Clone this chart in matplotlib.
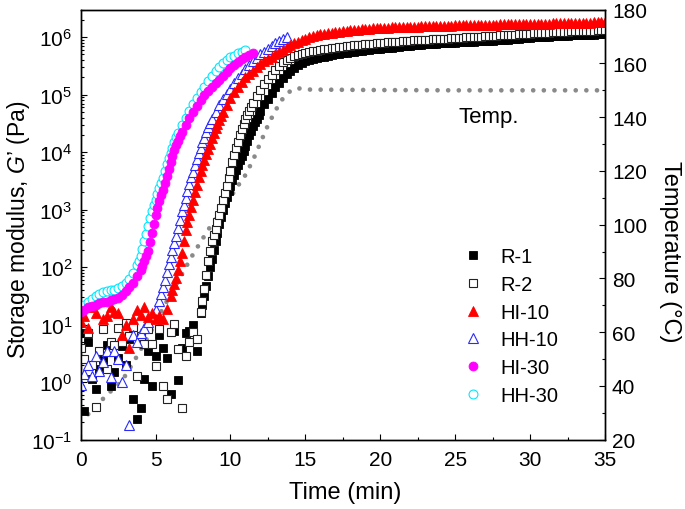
import matplotlib
matplotlib.use('Agg')
import matplotlib.pyplot as plt
from matplotlib.ticker import MultipleLocator, LogLocator
from matplotlib.lines import Line2D

# ---------------- data ----------------
time_min = [0.0, 0.25, 0.5, 0.75, 1.0, 1.25, 1.5, 1.75,
            2.0, 2.25, 2.5, 2.75, 3.0, 3.25, 3.5, 3.75,
            4.0, 4.25, 4.5, 4.75, 5.0, 5.25, 5.5, 5.75,
            6.0, 6.25, 6.5, 6.75, 7.0, 7.25, 7.5, 7.75,
            8.0, 8.25, 8.5, 8.75, 9.0, 9.25, 9.5, 9.75,
            10.0, 10.25, 10.5, 10.75, 11.0, 11.25, 11.5, 11.75,
            12.0, 12.25, 12.5, 12.75, 13.0, 13.25, 13.5, 13.75,
            14.0, 14.25, 14.5, 14.75, 15.0, 15.25, 15.5, 15.75,
            16.0, 16.25, 16.5, 16.75, 17.0, 17.25, 17.5, 17.75,
            18.0, 18.25, 18.5, 18.75, 19.0, 19.25, 19.5, 19.75,
            20.0, 20.25, 20.5, 20.75, 21.0, 21.25, 21.5, 21.75,
            22.0, 22.25, 22.5, 22.75, 23.0, 23.25, 23.5, 23.75,
            24.0, 24.25, 24.5, 24.75, 25.0, 25.25, 25.5, 25.75,
            26.0, 26.25, 26.5, 26.75, 27.0, 27.25, 27.5, 27.75,
            28.0, 28.25, 28.5, 28.75, 29.0, 29.25, 29.5, 29.75,
            30.0, 30.25, 30.5, 30.75, 31.0, 31.25, 31.5, 31.75,
            32.0, 32.25, 32.5, 32.75, 33.0, 33.25, 33.5, 33.75,
            34.0, 34.25, 34.5, 34.75, 35.0]

g_r1 = [7.1, 0.32, 5.0, 1.15, 0.76, 1.7, 2.4, 4.4,
        0.87, 1.48, 2.6, 4.2, 2.0, 5.6, 0.51, 0.23,
        0.35, 1.15, 3.5, 0.87, 2.9, 6.5, 4.0, 2.6,
        0.63, 7.9, 1.07, 4.0, 7.1, 7.9, 10.0, 3.5,
        16.0, 32.0, 71.0, 141.0, 282.0, 562.0, 1000.0, 1660.0,
        2630.0, 3980.0, 5890.0, 8710.0, 12600.0, 19500.0, 28200.0, 38000.0,
        52500.0, 67600.0, 85100.0, 107000.0, 135000.0, 162000.0, 195000.0, 229000.0,
        263000.0, 295000.0, 331000.0, 355000.0,
        3.8e5, 3.98e5, 4.15e5, 4.3e5, 4.47e5,
        4.6e5, 4.72e5, 4.85e5, 5.0e5,
        5.12e5, 5.25e5, 5.38e5, 5.5e5,
        5.6e5, 5.7e5, 5.8e5, 5.9e5, 6.0e5, 6.1e5, 6.2e5, 6.3e5,
        6.4e5, 6.5e5, 6.6e5, 6.7e5, 6.8e5, 6.9e5, 7.0e5, 7.1e5,
        7.2e5, 7.3e5, 7.38e5, 7.45e5, 7.55e5, 7.62e5, 7.7e5, 7.8e5,
        7.86e5, 7.92e5, 7.98e5, 8.04e5, 8.1e5, 8.16e5, 8.22e5, 8.3e5,
        8.36e5, 8.42e5, 8.5e5, 8.56e5, 8.62e5, 8.7e5, 8.78e5, 8.9e5,
        9.0e5, 9.1e5, 9.2e5, 9.3e5, 9.4e5, 9.5e5, 9.65e5, 9.8e5,
        9.9e5, 10.0e5, 10.1e5, 10.15e5, 10.2e5, 10.3e5, 10.4e5, 10.5e5,
        10.6e5, 10.65e5, 10.7e5, 10.8e5, 10.85e5, 10.9e5, 11.0e5, 11.05e5,
        11.1e5, 11.15e5, 11.2e5, 11.3e5]

g_r2 = [4.0, 2.5, 7.1, 2.0, 0.37, 3.5, 8.3, 1.7,
        5.0, 4.4, 8.9, 5.0, 10.5, 6.3, 9.1, 1.3,
        6.3, 4.6, 8.3, 4.6, 1.95, 8.3, 0.87, 0.51,
        7.4, 10.2, 3.8, 0.35, 2.8, 5.0, 7.4, 5.6,
        16.6, 41.7, 126.0, 282.0, 457.0, 794.0, 1450.0, 2630.0,
        4790.0, 8910.0, 15100.0, 25700.0, 37200.0, 52500.0, 70800.0, 93300.0,
        120000.0, 151000.0, 186000.0, 224000.0, 269000.0, 316000.0, 363000.0, 407000.0,
        437000.0, 468000.0, 490000.0, 513000.0,
        5.25e5, 5.45e5, 5.65e5, 5.85e5, 6.0e5,
        6.15e5, 6.3e5, 6.45e5, 6.6e5,
        6.7e5, 6.85e5, 6.95e5, 7.1e5,
        7.2e5, 7.3e5, 7.4e5, 7.5e5, 7.6e5, 7.7e5, 7.8e5, 7.9e5,
        8.0e5, 8.1e5, 8.2e5, 8.3e5, 8.4e5, 8.5e5, 8.6e5, 8.7e5,
        8.78e5, 8.85e5, 8.92e5, 9.0e5, 9.08e5, 9.15e5, 9.22e5, 9.3e5,
        9.38e5, 9.46e5, 9.54e5, 9.62e5, 9.7e5, 9.8e5, 9.9e5, 10.0e5,
        10.1e5, 10.2e5, 10.25e5, 10.35e5, 10.45e5, 10.5e5, 10.6e5, 10.7e5,
        10.8e5, 10.9e5, 11.0e5, 11.1e5, 11.2e5, 11.3e5, 11.4e5, 11.5e5,
        11.6e5, 11.7e5, 11.8e5, 11.9e5, 12.0e5, 12.1e5, 12.2e5, 12.3e5,
        12.4e5, 12.45e5, 12.55e5, 12.6e5, 12.7e5, 12.8e5, 12.85e5, 12.95e5,
        13.0e5, 13.1e5, 13.15e5, 13.2e5]

g_hi10 = [11.2, 14.1, 8.9, 20.0, 15.8, 26.3, 12.6, 14.1,
          20.0, 16.6, 16.2, 6.5, 10.0, 4.0, 12.6, 17.8,
          14.5, 20.0, 13.8, 15.8, 12.6, 14.1, 12.6, 18.6,
          31.6, 50.0, 89.0, 178.0, 447.0, 794.0, 1480.0, 2690.0,
          4790.0, 7410.0, 11500.0, 17400.0, 26300.0, 36300.0, 49000.0, 66100.0,
          89100.0, 110000.0, 135000.0, 166000.0, 200000.0, 229000.0, 263000.0, 302000.0,
          339000.0, 380000.0, 417000.0, 457000.0, 501000.0, 550000.0, 603000.0, 661000.0,
          724000.0, 776000.0, 832000.0, 891000.0,
          0.93e6, 0.99e6, 1.05e6, 1.09e6, 1.12e6,
          1.15e6, 1.18e6, 1.2e6, 1.23e6,
          1.25e6, 1.27e6, 1.3e6, 1.32e6,
          1.34e6, 1.35e6, 1.37e6, 1.38e6, 1.4e6, 1.42e6, 1.43e6, 1.45e6,
          1.46e6, 1.47e6, 1.48e6, 1.48e6, 1.49e6, 1.5e6, 1.5e6, 1.51e6,
          1.52e6, 1.53e6, 1.54e6, 1.54e6, 1.55e6, 1.56e6, 1.57e6, 1.58e6,
          1.58e6, 1.59e6, 1.59e6, 1.6e6, 1.6e6, 1.61e6, 1.61e6, 1.62e6,
          1.62e6, 1.63e6, 1.63e6, 1.64e6, 1.64e6, 1.65e6, 1.65e6, 1.66e6,
          1.66e6, 1.67e6, 1.67e6, 1.68e6, 1.68e6, 1.69e6, 1.69e6, 1.7e6,
          1.7e6, 1.71e6, 1.71e6, 1.72e6, 1.72e6, 1.73e6, 1.73e6, 1.74e6,
          1.75e6, 1.75e6, 1.76e6, 1.76e6, 1.77e6, 1.78e6, 1.78e6, 1.79e6,
          1.8e6, 1.8e6, 1.81e6, 1.82e6]

g_hh10 = [0.89, 1.41, 2.0, 1.26, 2.8, 1.58, 2.24, 3.5,
          1.23, 3.5, 2.5, 1.0, 2.0, 0.18, 6.5, 5.0,
          7.2, 8.9, 11.2, 14.1, 17.8, 26.3, 44.7, 83.0,
          151.0, 263.0, 479.0, 933.0, 1580.0, 2820.0, 4570.0, 7590.0,
          12000.0, 17800.0, 27500.0, 38000.0, 50100.0, 66100.0, 83200.0, 102000.0,
          126000.0, 158000.0, 195000.0, 229000.0, 275000.0, 331000.0, 389000.0, 437000.0,
          501000.0, 562000.0, 631000.0, 708000.0, 776000.0, 851000.0, 933000.0, 1000000.0]

g_hi30 = [16.6, 17.8, 20.0, 21.4, 22.4, 23.4, 24.5, 25.1,
          26.9, 28.2, 29.5, 33.1, 38.0, 44.7, 52.5, 70.8,
          89.1, 126.0, 191.0, 398.0, 794.0, 1410.0, 2240.0, 3800.0,
          6610.0, 11000.0, 15800.0, 22400.0, 29500.0, 38900.0, 50100.0, 64600.0,
          79400.0, 97700.0, 117000.0, 138000.0, 158000.0, 182000.0, 214000.0, 251000.0,
          295000.0, 331000.0, 372000.0, 417000.0, 457000.0, 490000.0, 525000.0]

g_hh30 = [20.0, 22.4, 25.1, 28.2, 31.6, 34.7, 37.2, 38.9,
          39.8, 39.8, 42.7, 47.9, 53.7, 63.1, 79.4, 107.0,
          158.0, 282.0, 525.0, 955.0, 1480.0, 2340.0, 3550.0, 6310.0,
          9550.0, 15100.0, 21900.0, 29500.0, 39800.0, 52500.0, 69200.0, 89100.0,
          112000.0, 138000.0, 170000.0, 209000.0, 263000.0, 302000.0, 355000.0, 398000.0,
          447000.0, 479000.0, 525000.0, 562000.0, 589000.0]

# extra readings in the steep (curing) parts, where the measured points are denser
rise_r1_t = [8.125, 8.375, 8.625, 8.875, 9.125, 9.375, 9.625, 9.875,
             10.125, 10.375, 10.625, 10.875, 11.125, 11.375, 11.625, 11.875]
rise_r1_g = [22.4, 47.9, 100.0, 200.0, 398.0, 759.0, 1290.0, 2090.0,
             3240.0, 4900.0, 7240.0, 10500.0, 15800.0, 23400.0, 33100.0, 44700.0]

rise_r2_t = [8.125, 8.375, 8.625, 8.875, 9.125, 9.375, 9.625, 9.875,
             10.125, 10.375, 10.625, 10.875, 11.125, 11.375]
rise_r2_g = [26.3, 72.4, 191.0, 363.0, 603.0, 1070.0, 1950.0, 3550.0,
             6610.0, 11700.0, 20000.0, 30900.0, 44700.0, 61700.0]

rise_hi10_t = [6.125, 6.375, 6.625, 6.875, 7.125, 7.375, 7.625, 7.875,
               8.125, 8.375, 8.625, 8.875, 9.125, 9.375]
rise_hi10_g = [39.8, 66.1, 126.0, 282.0, 603.0, 1100.0, 2000.0, 3630.0,
               6030.0, 9330.0, 14100.0, 21400.0, 30900.0, 42700.0]

rise_hh10_t = [5.375, 5.625, 5.875, 6.125, 6.375, 6.625, 6.875, 7.125,
               7.375, 7.625, 7.875, 8.125, 8.375, 8.625]
rise_hh10_g = [33.9, 60.3, 112.0, 200.0, 355.0, 661.0, 1200.0, 2140.0,
               3630.0, 5890.0, 9550.0, 14800.0, 22400.0, 32400.0]

rise_hi30_t = [4.125, 4.375, 4.625, 4.875, 5.125, 5.375, 5.625, 5.875,
               6.125, 6.375, 6.625]
rise_hi30_g = [105.0, 155.0, 275.0, 562.0, 1070.0, 1780.0, 2880.0, 5010.0,
               8510.0, 13200.0, 19100.0]

rise_hh30_t = [3.875, 4.125, 4.375, 4.625, 4.875, 5.125, 5.375, 5.625,
               5.875, 6.125, 6.375]
rise_hh30_g = [129.0, 209.0, 380.0, 708.0, 1200.0, 1860.0, 2880.0, 4680.0,
               7760.0, 12000.0, 18200.0]

temp_time = [0.5, 1.0, 2.0, 2.75, 3.5, 4.5, 5.5, 6.5, 7.5, 8.5, 9.5, 10.5, 11.0,
             11.5, 12.0, 12.5, 13.0, 13.5, 14.0, 14.5, 15.0, 20.0, 25.0, 30.0, 35.0]
temp_c = [29.5, 32.5, 38.0, 41.8, 48.6, 58.3, 69.0, 79.0, 89.0, 98.0, 106.0, 114.5, 118.5,
          124.0, 130.5, 137.0, 142.5, 147.0, 149.8, 150.8, 150.3, 150.1, 150.0, 150.0, 150.0]

series_labels = ['R-1', 'R-2', 'HI-10', 'HH-10', 'HI-30', 'HH-30']

# ---------------- figure ----------------
plt.rcParams['font.family'] = ['Liberation Sans', 'DejaVu Sans']
plt.rcParams['mathtext.fontset'] = 'custom'
plt.rcParams['mathtext.rm'] = 'Liberation Sans'
plt.rcParams['mathtext.it'] = 'Liberation Sans:italic'
plt.rcParams['mathtext.bf'] = 'Liberation Sans:bold'

fig = plt.figure(figsize=(6.85, 5.1), dpi=100)
ax = fig.add_axes([0.1178, 0.1359, 0.7654, 0.8431])
axT = ax.twinx()
ax.set_zorder(axT.get_zorder() + 1)
ax.patch.set_visible(False)

# temperature (dotted grey line)
axT.plot(temp_time, temp_c, color='#8a8a8a', lw=3.4,
         linestyle=(0, (0.001, 2.25)), dash_capstyle='round')

styles = {
    'R-1':   dict(marker='s', ms=5.5, mfc='black', mec='black', mew=0.6),
    'R-2':   dict(marker='s', ms=5.5, mfc='white', mec='#222222', mew=0.8),
    'HI-10': dict(marker='^', ms=6.6, mfc='#ff0000', mec='#ff0000', mew=0.6),
    'HH-10': dict(marker='^', ms=6.6, mfc='white', mec='#2a2aff', mew=0.8),
    'HI-30': dict(marker='o', ms=6.4, mfc='#ff00ff', mec='#ff00ff', mew=0.6),
    'HH-30': dict(marker='o', ms=6.4, mfc='white', mec='#00e8ff', mew=0.8),
}
series = {
    'R-1':   (time_min[:len(g_r1)] + rise_r1_t, g_r1 + rise_r1_g),
    'R-2':   (time_min[:len(g_r2)] + rise_r2_t, g_r2 + rise_r2_g),
    'HI-10': (time_min[:len(g_hi10)] + rise_hi10_t, g_hi10 + rise_hi10_g),
    'HH-10': (time_min[:len(g_hh10)] + rise_hh10_t, g_hh10 + rise_hh10_g),
    'HI-30': (time_min[:len(g_hi30)] + rise_hi30_t, g_hi30 + rise_hi30_g),
    'HH-30': (time_min[:len(g_hh30)] + rise_hh30_t, g_hh30 + rise_hh30_g),
}

draw_order = ['R-1', 'R-2', 'HH-10', 'HI-10', 'HH-30', 'HI-30']
handles = {}
for name in draw_order:
    t, g = series[name]
    pts = sorted(zip(t, g))
    ax.plot([p[0] for p in pts], [p[1] for p in pts], linestyle='none', **styles[name])
    handles[name] = Line2D([], [], linestyle='none', **styles[name])

ax.set_yscale('log')
ax.set_xlim(0, 35)
ax.set_ylim(0.1, 3e6)
axT.set_ylim(20, 180)

ax.xaxis.set_major_locator(MultipleLocator(5))
ax.xaxis.set_minor_locator(MultipleLocator(2.5))
ax.yaxis.set_major_locator(LogLocator(base=10, numticks=20))
ax.yaxis.set_minor_locator(LogLocator(base=10, subs=range(2, 10), numticks=100))
axT.yaxis.set_major_locator(MultipleLocator(20))
axT.yaxis.set_minor_locator(MultipleLocator(10))

ax.tick_params(which='both', direction='in', top=False, right=False, width=0.8)
ax.tick_params(which='major', length=4.5, labelsize=15)
ax.tick_params(which='minor', length=2.5)
ax.tick_params(axis='x', which='major', pad=7.5)
ax.tick_params(axis='y', which='major', pad=6)
axT.tick_params(which='both', direction='in', left=False, right=True, width=0.8)
axT.tick_params(which='major', length=4.5, labelsize=15, pad=5)
axT.tick_params(which='minor', length=2.5)
axT.tick_params(axis='x', which='both', bottom=False, top=False)

for a in (ax, axT):
    for s in a.spines.values():
        s.set_linewidth(1.0)

fig.text(19 / 685, 1 - 230 / 510, "Storage modulus, $G$\u2019 (Pa)", rotation=90,
         ha='center', va='center', fontsize=16.5)
fig.text(670 / 685, 1 - 252 / 510, "Temperature (\u00b0C)", rotation=270,
         ha='center', va='center', fontsize=17)
fig.text(345 / 685, 1 - 493 / 510, "Time (min)", ha='center', va='center', fontsize=17)

axT.text(25.25, 140.3, "Temp.", fontsize=16, ha='left', va='center')

ax.legend([handles[n] for n in series_labels], series_labels,
          loc='upper left', bbox_to_anchor=(0.729, 0.447), frameon=False,
          fontsize=14.5, borderpad=0, borderaxespad=0, handlelength=1.0,
          handletextpad=0.85, labelspacing=0.43, numpoints=1)

fig.savefig('out.png', dpi=100)
